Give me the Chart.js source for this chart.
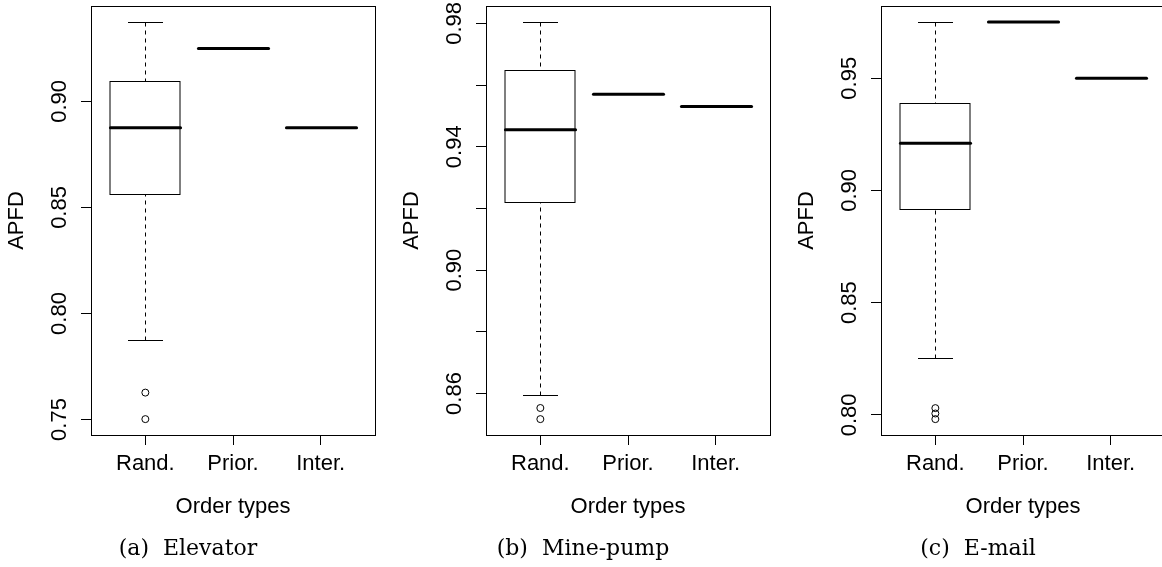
<!DOCTYPE html>
<html>
<head>
<meta charset="utf-8">
<title>APFD by order type</title>
<script src="https://cdn.jsdelivr.net/npm/chart.js@4.4.1/dist/chart.umd.min.js"></script>
<style>
  html, body { margin: 0; padding: 0; background: #fff; overflow: hidden; }
  body { width: 1162px; height: 567px; position: relative; }
  .panel { position: absolute; top: 0; height: 567px; overflow: hidden; }
  canvas { position: absolute; top: 0; left: 0; }
  .cap { position: absolute; top: 535px; line-height: 26px; transform: translateX(-50%);
         font-family: "DejaVu Serif", serif; font-size: 22px; white-space: pre; color: #000; }
</style>
</head>
<body>
<div class="panel" style="left:0px;width:395px"><canvas id="elevator" width="395" height="567"></canvas></div>
<div class="panel" style="left:395px;width:395px"><canvas id="minepump" width="395" height="567"></canvas></div>
<div class="panel" style="left:790px;width:372px"><canvas id="email" width="395" height="567"></canvas></div>
<div class="cap" style="left:188px">(a)  Elevator</div>
<div class="cap" style="left:583px">(b)  Mine-pump</div>
<div class="cap" style="left:978px">(c)  E-mail</div>

<script>
var categories = ['Rand.', 'Prior.', 'Inter.'];

// (a) Elevator
var elevatorLow = [0.7876, 0.925, 0.8876];
var elevatorQ1 = [0.8565, 0.925, 0.8876];
var elevatorMedian = [0.8876, 0.925, 0.8876];
var elevatorQ3 = [0.9096, 0.925, 0.8876];
var elevatorHigh = [0.9375, 0.925, 0.8876];
var elevatorOutliers = [0.7627, 0.7502];
var elevatorTicks = [0.75, 0.80, 0.85, 0.90];
var elevatorTickLabels = ['0.75', '0.80', '0.85', '0.90'];

// (b) Mine-pump
var minepumpLow = [0.8594, 0.9570, 0.9531];
var minepumpQ1 = [0.9220, 0.9570, 0.9531];
var minepumpMedian = [0.9455, 0.9570, 0.9531];
var minepumpQ3 = [0.9648, 0.9570, 0.9531];
var minepumpHigh = [0.9805, 0.9570, 0.9531];
var minepumpOutliers = [0.8553, 0.8517];
var minepumpTicks = [0.86, 0.88, 0.90, 0.92, 0.94, 0.96, 0.98];
var minepumpTickLabels = ['0.86', '0.90', '0.94', '0.98'];

// (c) E-mail
var emailLow = [0.8252, 0.9751, 0.95];
var emailQ1 = [0.8918, 0.9751, 0.95];
var emailMedian = [0.9210, 0.9751, 0.95];
var emailQ3 = [0.9388, 0.9751, 0.95];
var emailHigh = [0.9751, 0.9751, 0.95];
var emailOutliers = [0.8030, 0.8006, 0.7981];
var emailTicks = [0.80, 0.85, 0.90, 0.95];
var emailTickLabels = ['0.80', '0.85', '0.90', '0.95'];

var sans = '"Liberation Sans", Arial, sans-serif';
Chart.defaults.font.family = sans;
Chart.defaults.color = '#000';

// boxes, whiskers, medians, frame and y labels, all through the chart scales
function boxPlugin(s) {
    function line(ctx, x1, y1, x2, y2) {
        ctx.beginPath();
        ctx.moveTo(x1, y1);
        ctx.lineTo(x2, y2);
        ctx.stroke();
    }
    return {
        id: 'boxPlot',
        beforeDatasetsDraw: function(chart) {
            var ctx = chart.ctx, x = chart.scales.x, y = chart.scales.y;
            ctx.save();
            ctx.strokeStyle = '#000';
            for (var i = 0; i < s.median.length; i++) {
                var cx = Math.round(x.getPixelForValue(i + 1)) + 0.5;
                var bw = x.getPixelForValue(i + 1.4) - x.getPixelForValue(i + 1);
                var cw = x.getPixelForValue(i + 1.2) - x.getPixelForValue(i + 1);
                var yLow = Math.round(y.getPixelForValue(s.low[i])) + 0.5;
                var yHigh = Math.round(y.getPixelForValue(s.high[i])) + 0.5;
                var yQ1 = Math.round(y.getPixelForValue(s.q1[i])) + 0.5;
                var yQ3 = Math.round(y.getPixelForValue(s.q3[i])) + 0.5;
                var yMed = y.getPixelForValue(s.median[i]);
                if (s.q3[i] > s.q1[i]) {
                    ctx.lineWidth = 1;
                    ctx.lineCap = 'butt';
                    ctx.setLineDash([4, 4]);
                    line(ctx, cx, yHigh, cx, yQ3);
                    line(ctx, cx, yLow, cx, yQ1);
                    ctx.setLineDash([]);
                    line(ctx, Math.round(cx - cw), yHigh, Math.round(cx + cw), yHigh);
                    line(ctx, Math.round(cx - cw), yLow, Math.round(cx + cw), yLow);
                    ctx.strokeRect(Math.round(cx - bw), yQ3, Math.round(2 * bw), yQ1 - yQ3);
                }
                ctx.lineWidth = 3;
                ctx.lineCap = 'round';
                line(ctx, cx - bw, yMed, cx + bw, yMed);
            }
            ctx.restore();
        },
        afterDraw: function(chart) {
            var ctx = chart.ctx, a = chart.chartArea, y = chart.scales.y;
            ctx.save();
            ctx.strokeStyle = '#000';
            ctx.lineWidth = 1;
            ctx.strokeRect(Math.round(a.left) + 0.5, Math.round(a.top) + 0.5,
                Math.round(a.width), Math.round(a.height));
            ctx.fillStyle = '#000';
            ctx.font = '22px ' + sans;
            ctx.textAlign = 'center';
            ctx.textBaseline = 'alphabetic';
            s.ticks.forEach(function(v) {
                var label = v.toFixed(2);
                if (s.tickLabels.indexOf(label) < 0) return;
                ctx.save();
                ctx.translate(a.left - 25, y.getPixelForValue(v));
                ctx.rotate(-Math.PI / 2);
                ctx.fillText(label, 0, 0);
                ctx.restore();
            });
            ctx.restore();
        }
    };
}

function makeChart(id, s) {
    var all = s.low.concat(s.high, s.outliers);
    var lo = Math.min.apply(null, all), hi = Math.max.apply(null, all);
    var pad = (hi - lo) * 0.04;
    return new Chart(document.getElementById(id), {
        type: 'scatter',
        data: {
            datasets: [{
                label: 'outliers',
                data: s.outliers.map(function(v) { return {x: 1, y: v}; }),
                pointStyle: 'circle',
                pointRadius: 3.5,
                borderWidth: 1,
                borderColor: '#000',
                backgroundColor: 'rgba(0,0,0,0)'
            }]
        },
        options: {
            responsive: false,
            animation: false,
            events: [],
            layout: { padding: { top: 6, right: 20, bottom: 0, left: 0 } },
            plugins: { legend: { display: false }, tooltip: { enabled: false } },
            scales: {
                x: {
                    type: 'linear',
                    min: 0.38,
                    max: 3.62,
                    afterBuildTicks: function(sc) {
                        sc.ticks = categories.map(function(c, i) { return {value: i + 1}; });
                    },
                    afterFit: function(sc) { sc.height = 132; },
                    ticks: {
                        font: { size: 22 },
                        padding: 6,
                        maxRotation: 0,
                        callback: function(v) { return categories[v - 1]; }
                    },
                    grid: { drawOnChartArea: false, tickLength: 10, tickColor: '#000' },
                    border: { display: false },
                    title: { display: true, text: 'Order types', font: { size: 22 },
                             padding: { top: 0, bottom: 47 } }
                },
                y: {
                    type: 'linear',
                    min: lo - pad,
                    max: hi + pad,
                    afterBuildTicks: function(sc) {
                        sc.ticks = s.ticks.map(function(v) { return {value: v}; });
                    },
                    afterFit: function(sc) { sc.width = 91; },
                    ticks: { display: false },
                    grid: { drawOnChartArea: false, tickLength: 10, tickColor: '#000' },
                    border: { display: false },
                    title: { display: true, text: 'APFD', font: { size: 22 },
                             padding: { top: 3.5, bottom: 0 } }
                }
            }
        },
        plugins: [boxPlugin(s)]
    });
}

makeChart('elevator', {
    low: elevatorLow, q1: elevatorQ1, median: elevatorMedian, q3: elevatorQ3, high: elevatorHigh,
    outliers: elevatorOutliers, ticks: elevatorTicks, tickLabels: elevatorTickLabels
});
makeChart('minepump', {
    low: minepumpLow, q1: minepumpQ1, median: minepumpMedian, q3: minepumpQ3, high: minepumpHigh,
    outliers: minepumpOutliers, ticks: minepumpTicks, tickLabels: minepumpTickLabels
});
makeChart('email', {
    low: emailLow, q1: emailQ1, median: emailMedian, q3: emailQ3, high: emailHigh,
    outliers: emailOutliers, ticks: emailTicks, tickLabels: emailTickLabels
});
</script>
</body>
</html>
